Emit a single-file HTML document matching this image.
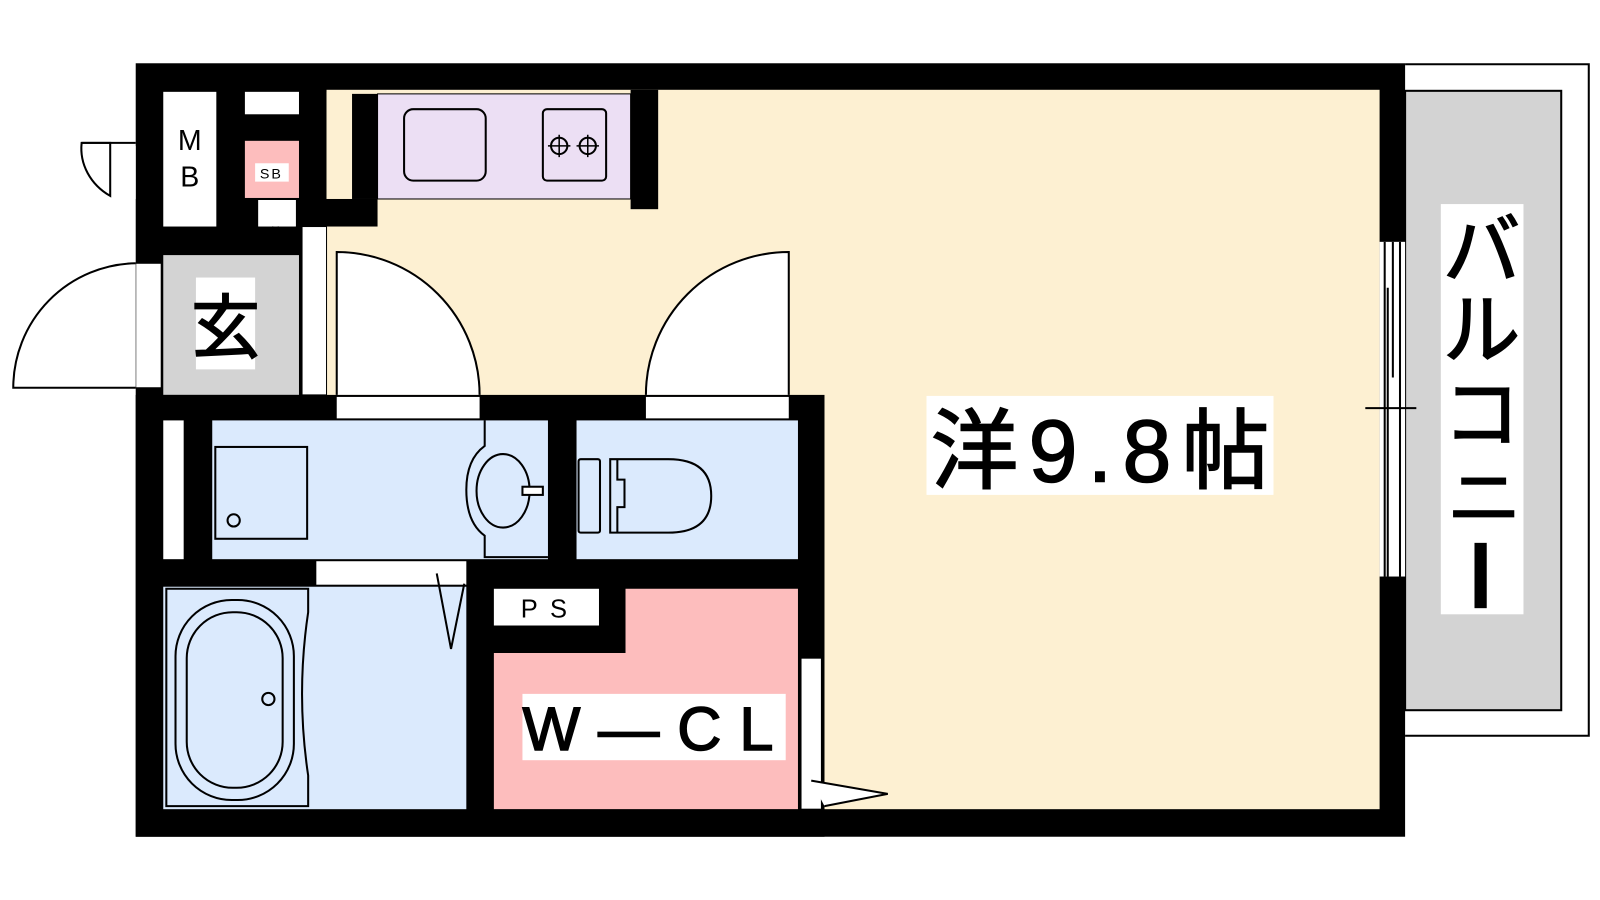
<!DOCTYPE html>
<html><head><meta charset="utf-8"><style>
html,body{margin:0;padding:0;background:#fff;width:1600px;height:900px;overflow:hidden}
svg{display:block}
text{font-family:"Liberation Sans","Noto Sans CJK JP",sans-serif}
.b{stroke:#000;stroke-width:1.5}
</style></head><body>
<svg width="1600" height="900" viewBox="0 0 1568 882" preserveAspectRatio="none" xmlns="http://www.w3.org/2000/svg">
<path d="M1377 63 H1557 V721 H1377" fill="#fff" stroke="#000" stroke-width="2"/>
<rect x="1377" y="89" width="153" height="607" fill="#d3d3d3" stroke="#000" stroke-width="2"/>
<rect x="1412" y="200" width="81" height="402" fill="#fff"/>
<text class="b" x="1452" y="272" font-size="76" text-anchor="middle">バ</text>
<text class="b" x="1452" y="350" font-size="76" text-anchor="middle">ル</text>
<text class="b" x="1452" y="432" font-size="76" text-anchor="middle">コ</text>
<rect x="1432" y="468" width="44" height="7" fill="#000"/>
<rect x="1424" y="500" width="60" height="7" fill="#000"/>
<rect x="1445" y="532" width="12" height="64" fill="#000"/>
<rect x="133" y="62" width="1244" height="758" fill="#000"/>
<rect x="320" y="88" width="1032" height="705" fill="#fdf0d2"/>
<rect x="1352" y="237" width="25" height="328" fill="#fff"/>
<line x1="1357" y1="237" x2="1357" y2="565" stroke="#000" stroke-width="2"/>
<line x1="1365" y1="237" x2="1365" y2="370" stroke="#000" stroke-width="2"/>
<line x1="1372" y1="237" x2="1372" y2="565" stroke="#000" stroke-width="2"/>
<line x1="1360" y1="282" x2="1360" y2="565" stroke="#000" stroke-width="2"/>
<line x1="1338" y1="400" x2="1388" y2="400" stroke="#000" stroke-width="2"/>
<rect x="160" y="90" width="52" height="132" fill="#fff"/>
<text x="186" y="147" font-size="28" text-anchor="middle">M</text>
<text x="186" y="183" font-size="28" text-anchor="middle">B</text>
<rect x="240" y="90" width="53" height="22" fill="#fff"/>
<rect x="240" y="138" width="53" height="56" fill="#fdbdbd"/>
<rect x="250" y="160" width="33" height="18" fill="#fff"/>
<text x="266" y="175" font-size="14" text-anchor="middle" letter-spacing="2">SB</text>
<rect x="253" y="196" width="37" height="26" fill="#fff"/>
<rect x="320" y="90" width="25" height="105" fill="#fdf0d2"/>
<rect x="345" y="92" width="25" height="103" fill="#000"/>
<rect x="293" y="195" width="77" height="27" fill="#000"/>
<rect x="370" y="92" width="248" height="103" fill="#ecdff4" stroke="#000" stroke-width="1"/>
<rect x="618" y="88" width="27" height="117" fill="#000"/>
<rect x="396" y="107" width="80" height="70" rx="9" fill="none" stroke="#000" stroke-width="2"/>
<rect x="532" y="107" width="62" height="70" rx="4" fill="none" stroke="#000" stroke-width="2"/>
<circle cx="548" cy="143" r="8" fill="none" stroke="#000" stroke-width="2"/>
<circle cx="576" cy="143" r="8" fill="none" stroke="#000" stroke-width="2"/>
<path d="M537 143h22M548 132v22M565 143h22M576 132v22" stroke="#000" stroke-width="1.5"/>
<rect x="160" y="250" width="133" height="137" fill="#d3d3d3"/>
<path d="M253 222 V238 Q264 238 268 222 M290 222 V238 Q276 238 272 222" fill="none" stroke="#000" stroke-width="2"/>
<rect x="192" y="272" width="58" height="90" fill="#fff"/>
<text class="b" x="221" y="345" font-size="68" text-anchor="middle">玄</text>
<rect x="296" y="222" width="24" height="165" fill="#fff" stroke="#000" stroke-width="1"/>
<rect x="108" y="143" width="25" height="52" fill="#fff"/>
<path d="M80 140 H108 V192 A60 55 0 0 1 80 140Z" fill="#fff" stroke="#000" stroke-width="2"/>
<line x1="133" y1="140" x2="80" y2="140" stroke="#000" stroke-width="2"/>
<rect x="133" y="258" width="25" height="122" fill="#fff" stroke="#000" stroke-width="1"/>
<path d="M133 258 A122 122 0 0 0 13 380 H133" fill="#fff" stroke="#000" stroke-width="2"/>
<path d="M330 387 V247 A140 140 0 0 1 470 387" fill="#fff" stroke="#000" stroke-width="2"/>
<path d="M773 387 V247 A140 140 0 0 0 633 387" fill="#fff" stroke="#000" stroke-width="2"/>
<rect x="133" y="387" width="675" height="433" fill="#000"/>
<rect x="330" y="389" width="140" height="21" fill="#fff"/>
<rect x="633" y="389" width="140" height="21" fill="#fff"/>
<rect x="160" y="412" width="20" height="136" fill="#fff"/>
<rect x="208" y="412" width="329" height="136" fill="#dbeafd"/>
<rect x="211" y="438" width="90" height="90" fill="none" stroke="#000" stroke-width="2"/>
<circle cx="229" cy="510" r="6" fill="none" stroke="#000" stroke-width="2"/>
<path d="M475 412 V437 Q457 450 457 480 Q457 512 475 525 V546 H537" fill="none" stroke="#000" stroke-width="2"/>
<ellipse cx="493" cy="481" rx="26" ry="36" fill="none" stroke="#000" stroke-width="2"/>
<rect x="512" y="477" width="20" height="8" fill="#fff" stroke="#000" stroke-width="2"/>
<rect x="565" y="412" width="217" height="136" fill="#dbeafd"/>
<rect x="567" y="450" width="21" height="72" rx="2" fill="none" stroke="#000" stroke-width="2"/>
<path d="M598 450 H655 Q697 450 697 486 Q697 522 655 522 H598 Z" fill="none" stroke="#000" stroke-width="2"/>
<path d="M605 450 V470 H612 V497 H605 V522" fill="none" stroke="#000" stroke-width="2"/>
<rect x="310" y="550" width="147" height="23" fill="#fff"/>
<rect x="160" y="575" width="297" height="218" fill="#dbeafd"/>
<path d="M163 577 H302 V600 Q290 680 302 760 V790 H163 Z" fill="none" stroke="#000" stroke-width="2"/>
<rect x="172" y="588" width="116" height="196" rx="55" fill="none" stroke="#000" stroke-width="2"/>
<rect x="183" y="600" width="94" height="172" rx="45" fill="none" stroke="#000" stroke-width="2"/>
<circle cx="263" cy="685" r="6" fill="none" stroke="#000" stroke-width="2"/>
<path d="M428 562 L442 636 L455 572" fill="none" stroke="#000" stroke-width="2"/>
<rect x="484" y="577" width="103" height="36" fill="#fff"/>
<text x="539" y="605" font-size="25" text-anchor="middle" letter-spacing="12">PS</text>
<path d="M613 577 H782 V793 H484 V640 H613 Z" fill="#fdbdbd"/>
<rect x="512" y="680" width="258" height="65" fill="#fff"/>
<text class="b" x="512" y="735" font-size="60" textLength="246" lengthAdjust="spacing">W—CL</text>
<rect x="785" y="645" width="20" height="148" fill="#fff" stroke="#000" stroke-width="1"/>
<path d="M795 765 L870 778 L808 790" fill="#fff" stroke="#000" stroke-width="2"/>
<rect x="908" y="388" width="340" height="97" fill="#fff"/>
<text class="b" x="912" y="472" font-size="86" textLength="332" lengthAdjust="spacing">洋9.8帖</text>
</svg>
</body></html>
